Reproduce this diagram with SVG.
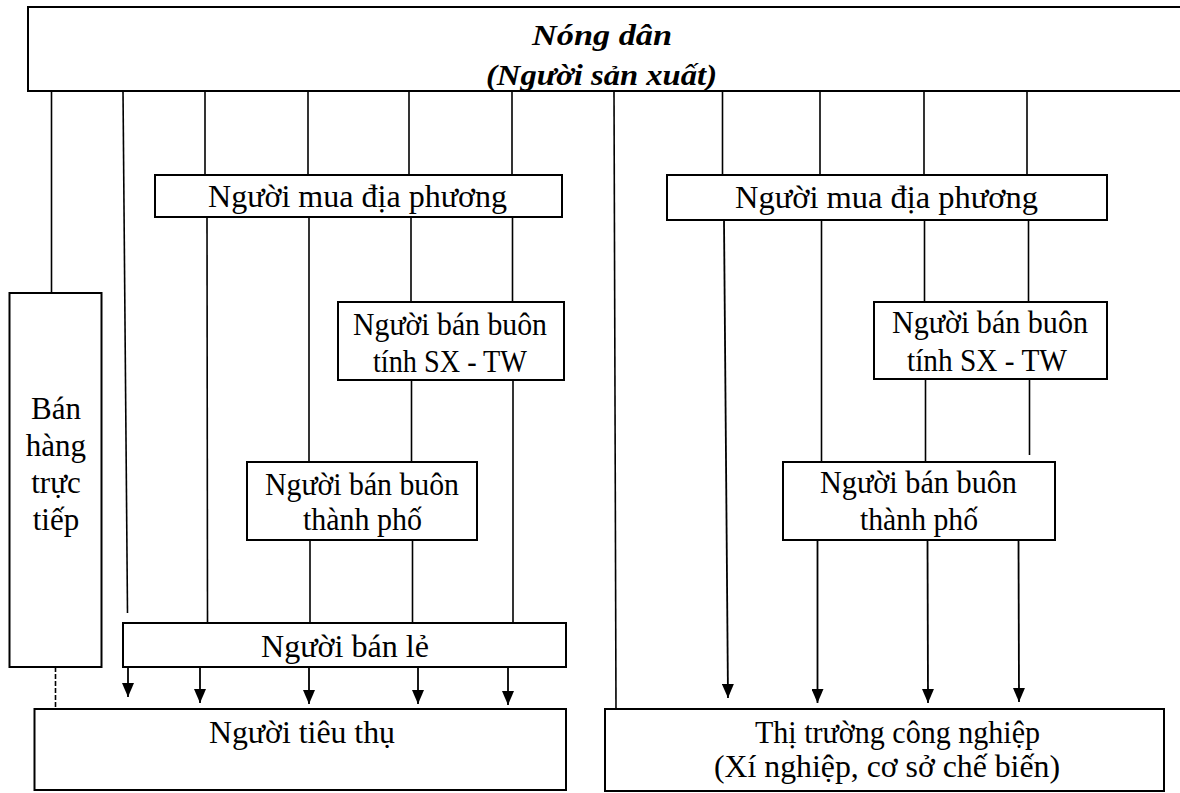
<svg xmlns="http://www.w3.org/2000/svg" width="1180" height="793" viewBox="0 0 1180 793">
<style>
.box{fill:#fff;stroke:#000;stroke-width:2}
.ln{fill:none;stroke:#000;stroke-width:1.6}
.ar{fill:none;stroke:#000;stroke-width:1.8;marker-end:url(#ah)}
.t{font-family:"Liberation Serif","Times New Roman",serif;font-size:31px;fill:#000}
.c{text-anchor:middle}
.bi{font-weight:bold;font-style:italic;font-size:30px}
</style>
<defs>
<marker id="ah" markerUnits="userSpaceOnUse" markerWidth="14" markerHeight="12" refX="14" refY="6" orient="auto">
<path d="M0,0 L14,6 L0,12 z" fill="#000"/>
</marker>
</defs>
<rect width="1180" height="793" fill="#fff"/>
<g id="connectors">
<line class="ln" x1="51.5" y1="91" x2="51.5" y2="293"/>
<line class="ln" x1="55.5" y1="667" x2="55.5" y2="709" stroke-dasharray="5 2"/>
<line class="ln" x1="123" y1="91" x2="127.5" y2="613"/>
<line class="ln" x1="205" y1="91" x2="205" y2="175"/>
<line class="ln" x1="207" y1="217" x2="207.5" y2="623"/>
<line class="ln" x1="308" y1="91" x2="308" y2="175"/>
<line class="ln" x1="309" y1="217" x2="309" y2="462"/>
<line class="ln" x1="310" y1="540" x2="310" y2="623"/>
<line class="ln" x1="409" y1="91" x2="409" y2="175"/>
<line class="ln" x1="411" y1="217" x2="411" y2="302"/>
<line class="ln" x1="411.5" y1="380" x2="411.5" y2="462"/>
<line class="ln" x1="412.5" y1="540" x2="412.5" y2="623"/>
<line class="ln" x1="512" y1="91" x2="512" y2="175"/>
<line class="ln" x1="512.5" y1="217" x2="512.5" y2="302"/>
<line class="ln" x1="513" y1="380" x2="513" y2="623"/>
<line class="ar" x1="128" y1="667" x2="128" y2="697"/>
<line class="ar" x1="200" y1="667" x2="200" y2="703"/>
<line class="ar" x1="309" y1="667" x2="309" y2="704"/>
<line class="ar" x1="418" y1="667" x2="418" y2="704"/>
<line class="ar" x1="508" y1="667" x2="508" y2="705"/>
<line class="ln" x1="614" y1="91" x2="616" y2="709"/>
<line class="ln" x1="722.5" y1="91" x2="722.5" y2="175"/>
<line class="ar" x1="724" y1="220" x2="728" y2="698"/>
<line class="ln" x1="820" y1="91" x2="820" y2="175"/>
<line class="ln" x1="821.5" y1="220" x2="821.5" y2="462"/>
<line class="ar" x1="817.5" y1="540" x2="817.5" y2="703"/>
<line class="ln" x1="924" y1="91" x2="924" y2="175"/>
<line class="ln" x1="924.5" y1="220" x2="924.5" y2="302"/>
<line class="ln" x1="925.5" y1="379" x2="925.5" y2="462"/>
<line class="ar" x1="927.5" y1="540" x2="928" y2="703"/>
<line class="ln" x1="1027" y1="91" x2="1027" y2="175"/>
<line class="ln" x1="1028.5" y1="220" x2="1028.5" y2="302"/>
<line class="ln" x1="1029.5" y1="379" x2="1029.5" y2="455"/>
<line class="ar" x1="1018.5" y1="540" x2="1019" y2="702"/>
</g>
<g id="nong-dan">
<rect class="box" x="28" y="7" width="1162" height="84"/>
<text class="t bi" x="532" y="45" textLength="140" lengthAdjust="spacingAndGlyphs">Nóng dân</text>
<text class="t bi" x="486" y="85" textLength="231" lengthAdjust="spacingAndGlyphs">(Người sản xuất)</text>
</g>
<g id="ban-hang-truc-tiep">
<rect class="box" x="9.5" y="293" width="92" height="374"/>
<text class="t c" x="56" y="419">Bán</text>
<text class="t c" x="56" y="456">hàng</text>
<text class="t c" x="56" y="493">trực</text>
<text class="t c" x="56" y="530">tiếp</text>
</g>
<g id="mua-dia-phuong-1">
<rect class="box" x="155" y="175" width="407" height="42"/>
<text class="t" x="208" y="207" textLength="299" lengthAdjust="spacingAndGlyphs">Người mua địa phương</text>
</g>
<g id="ban-buon-tinh-1">
<rect class="box" x="338" y="302" width="226" height="78"/>
<text class="t" x="353" y="335" textLength="194" lengthAdjust="spacingAndGlyphs">Người bán buôn</text>
<text class="t" x="373" y="372" textLength="154" lengthAdjust="spacingAndGlyphs">tính SX - TW</text>
</g>
<g id="ban-buon-tp-1">
<rect class="box" x="247" y="462" width="230" height="78"/>
<text class="t" x="265" y="495" textLength="194" lengthAdjust="spacingAndGlyphs">Người bán buôn</text>
<text class="t" x="303" y="530" textLength="119" lengthAdjust="spacingAndGlyphs">thành phố</text>
</g>
<g id="ban-le">
<rect class="box" x="123" y="623" width="443" height="44"/>
<text class="t" x="261" y="657" textLength="168" lengthAdjust="spacingAndGlyphs">Người bán lẻ</text>
</g>
<g id="tieu-thu">
<rect class="box" x="34.5" y="709" width="531.5" height="81"/>
<text class="t" x="209" y="743" textLength="186" lengthAdjust="spacingAndGlyphs">Người tiêu thụ</text>
</g>
<g id="mua-dia-phuong-2">
<rect class="box" x="667" y="175" width="440" height="45"/>
<text class="t" x="735" y="208" textLength="303" lengthAdjust="spacingAndGlyphs">Người mua địa phương</text>
</g>
<g id="ban-buon-tinh-2">
<rect class="box" x="874" y="302" width="233" height="77"/>
<text class="t" x="892" y="333" textLength="196" lengthAdjust="spacingAndGlyphs">Người bán buôn</text>
<text class="t" x="907" y="371" textLength="160" lengthAdjust="spacingAndGlyphs">tính SX - TW</text>
</g>
<g id="ban-buon-tp-2">
<rect class="box" x="783" y="462" width="272" height="78"/>
<text class="t" x="820" y="493" textLength="197" lengthAdjust="spacingAndGlyphs">Người bán buôn</text>
<text class="t" x="860" y="530" textLength="118" lengthAdjust="spacingAndGlyphs">thành phố</text>
</g>
<g id="thi-truong-cong-nghiep">
<rect class="box" x="605" y="709" width="559" height="82"/>
<text class="t" x="755" y="743" textLength="285" lengthAdjust="spacingAndGlyphs">Thị trường công nghiệp</text>
<text class="t" x="714" y="777" textLength="346" lengthAdjust="spacingAndGlyphs">(Xí nghiệp, cơ sở chế biến)</text>
</g>
</svg>
